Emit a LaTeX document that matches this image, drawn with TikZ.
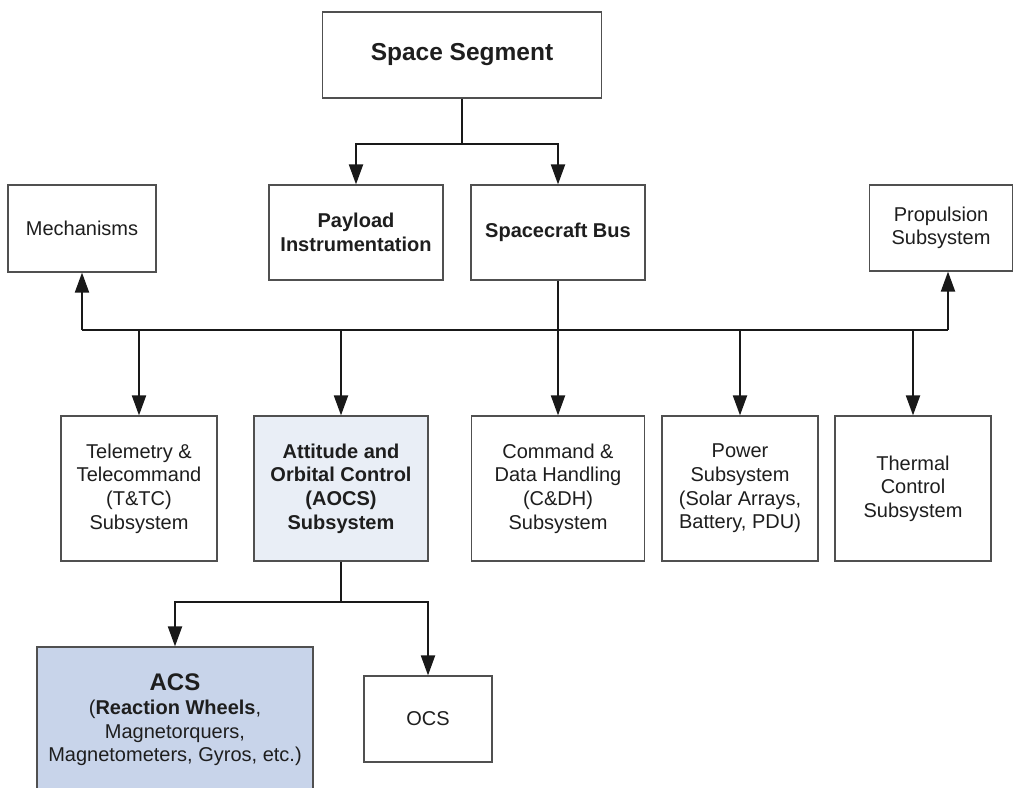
\documentclass[tikz,border=0pt]{standalone}
\usepackage{fontspec}
\setmainfont{Liberation Sans}
\usetikzlibrary{arrows.meta}
\definecolor{boxline}{HTML}{505050}
\definecolor{txt}{HTML}{1E1E1E}
\definecolor{aocsfill}{HTML}{E9EEF6}
\definecolor{acsfill}{HTML}{C8D4EA}
\tikzset{
  blk/.style={draw=boxline, line width=1.2pt, align=center, inner sep=0pt,
    text=txt, font=\fontsize{20}{23.6}\selectfont},
  conn/.style={line width=2pt, draw=black!90},
  arr/.style={conn, -{Triangle[width=14pt,length=20pt]}}
}
\begin{document}
\begin{tikzpicture}[x=1pt,y=-1pt]
\useasboundingbox (0,0) rectangle (1014,787);
\clip (0,0) rectangle (1014,787);
\fill[white] (0,0) rectangle (1014,787);

% top
\node[blk, minimum width=279pt, minimum height=86pt, font=\fontsize{24.5}{29}\selectfont\bfseries] (ss) at (462,55) {Space Segment};
\node[blk, minimum width=174pt, minimum height=95pt, font=\fontsize{20}{23.6}\selectfont\bfseries] (payload) at (356,232.5) {Payload\\Instrumentation};
\node[blk, minimum width=174pt, minimum height=95pt, font=\fontsize{20}{23.6}\selectfont\bfseries] (bus) at (558,232.5) {Spacecraft Bus};
\node[blk, minimum width=148pt, minimum height=87pt] (mech) at (82,228.5) {Mechanisms};
\node[blk, minimum width=143pt, minimum height=86pt] (prop) at (941,228) {Propulsion\\Subsystem};

% row 2
\node[blk, minimum width=156pt, minimum height=145pt] (tt) at (139,488.5) {Telemetry \&\\Telecommand\\(T\&TC)\\Subsystem};
\node[blk, fill=aocsfill, minimum width=174pt, minimum height=145pt, font=\fontsize{20}{23.6}\selectfont\bfseries] (aocs) at (341,488.5) {Attitude and\\Orbital Control\\(AOCS)\\Subsystem};
\node[blk, minimum width=173pt, minimum height=145pt] (cdh) at (558,488.5) {Command \&\\Data Handling\\(C\&DH)\\Subsystem};
\node[blk, minimum width=156pt, minimum height=145pt] (pow) at (740,488.5) {Power\\Subsystem\\(Solar Arrays,\\Battery, PDU)};
\node[blk, minimum width=156pt, minimum height=145pt] (therm) at (913,488.5) {Thermal\\Control\\Subsystem};

% row 3
\node[blk, fill=acsfill, minimum width=276pt, minimum height=146pt] (acs) at (175,720) {{\fontsize{24}{27}\selectfont\bfseries ACS}\\(\textbf{Reaction Wheels},\\Magnetorquers,\\Magnetometers, Gyros, etc.)};
\node[blk, minimum width=128pt, minimum height=86pt] (ocs) at (428,719) {OCS};

% connectors: space segment
\coordinate (j1) at (462,144);
\draw[conn] (ss.south) -- (j1);
\draw[arr] (j1) -| (payload.north);
\draw[arr] (j1) -| (bus.north);

% bus bar
\coordinate (bl) at (82,330);
\coordinate (br) at (948,330);
\draw[conn] (bl) -- (br);
\draw[arr] (bl) -- (mech.south);
\draw[arr] (br) -- (br |- prop.south);
\draw[arr] (bus.south) -- (cdh.north);
\draw[arr] (tt.north |- bl) -- (tt.north);
\draw[arr] (aocs.north |- bl) -- (aocs.north);
\draw[arr] (pow.north |- bl) -- (pow.north);
\draw[arr] (therm.north |- bl) -- (therm.north);

% AOCS split
\coordinate (j2) at (341,602);
\draw[conn] (aocs.south) -- (j2);
\draw[arr] (j2) -| (acs.north);
\draw[arr] (j2) -| (ocs.north);
\end{tikzpicture}
\end{document}
